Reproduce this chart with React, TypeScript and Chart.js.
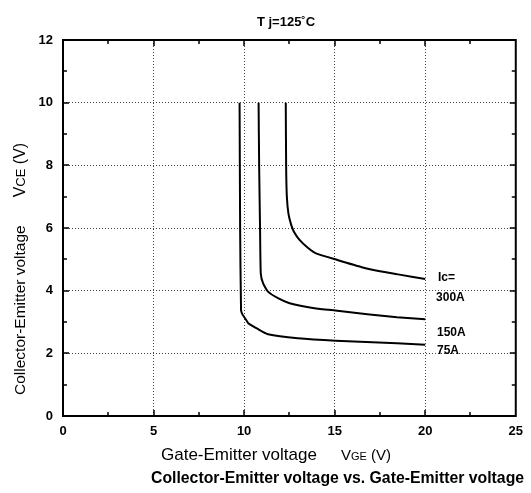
import React, { useEffect, useRef } from "react";
import { Chart, registerables } from "chart.js";

Chart.register(...registerables);

// ---- data ----
const X_75A = [9.75, 9.78, 9.83, 9.9, 10.05, 10.23, 10.78, 11.32, 12.96, 15.06, 18.44, 20];
const Y_75A = [10, 6, 3.38, 3.25, 3.12, 2.96, 2.77, 2.61, 2.48, 2.4, 2.32, 2.27];

const X_150A = [10.8, 10.83, 10.88, 10.92, 11.05, 11.32, 11.87, 12.51, 13.88, 15.15, 16.8, 18.44, 20];
const Y_150A = [10, 8, 6, 4.55, 4.23, 3.97, 3.76, 3.6, 3.44, 3.36, 3.25, 3.15, 3.09];

const X_300A = [12.3, 12.32, 12.36, 12.45, 12.6, 12.75, 13.06, 13.5, 13.97, 15.15, 16.5, 17.5, 18.5, 20];
const Y_300A = [10, 8, 7, 6.45, 6.1, 5.88, 5.62, 5.38, 5.19, 4.98, 4.75, 4.62, 4.52, 4.37];

const CURVE_LABELS = ["Ic=", "300A", "150A", "75A"];
const CURVE_LABEL_X = [20.7, 20.6, 20.65, 20.65];
const CURVE_LABEL_Y = [4.4, 3.78, 2.65, 2.1];

const X_MIN = 0, X_MAX = 25, X_STEP = 2.5, X_LABEL_STEP = 5;
const Y_MIN = 0, Y_MAX = 12, Y_STEP = 1, Y_LABEL_STEP = 2;

const TITLE = "T j=125˚C";
const CAPTION = "Collector-Emitter voltage vs. Gate-Emitter voltage";
const X_TITLE = ["Gate-Emitter voltage", "V", "GE", " (V)"];
const Y_TITLE = ["Collector-Emitter voltage", "V", "CE", " (V)"];

const FONT = "Arial, 'Liberation Sans', Helvetica, sans-serif";

const toPts = (xs: number[], ys: number[]) => xs.map((x, i) => ({ x, y: ys[i] }));

const decorPlugin = {
  id: "decor",
  afterDraw(chart: any) {
    const { ctx, chartArea, scales } = chart;
    const { left, right, top, bottom } = chartArea;
    const xs = scales.x, ys = scales.y;
    ctx.save();
    ctx.strokeStyle = "#000";
    // inward ticks
    ctx.lineWidth = 1.5;
    for (let v = X_MIN + X_STEP; v < X_MAX - 1e-6; v += X_STEP) {
      const px = Math.round(xs.getPixelForValue(v));
      const len = Math.abs(v % X_LABEL_STEP) < 1e-6 ? 6 : 4;
      ctx.beginPath();
      ctx.moveTo(px, bottom); ctx.lineTo(px, bottom - len);
      ctx.moveTo(px, top); ctx.lineTo(px, top + len);
      ctx.stroke();
    }
    for (let v = Y_MIN + Y_STEP; v < Y_MAX - 1e-6; v += Y_STEP) {
      const py = Math.round(ys.getPixelForValue(v));
      const len = Math.abs(v % Y_LABEL_STEP) < 1e-6 ? 6 : 4;
      ctx.beginPath();
      ctx.moveTo(left, py); ctx.lineTo(left + len, py);
      ctx.moveTo(right, py); ctx.lineTo(right - len, py);
      ctx.stroke();
    }
    // frame
    ctx.lineWidth = 2;
    ctx.strokeRect(left, top, right - left, bottom - top);

    // curve labels
    ctx.fillStyle = "#000";
    ctx.font = `bold 12px ${FONT}`;
    ctx.textAlign = "left";
    ctx.textBaseline = "middle";
    CURVE_LABELS.forEach((t, i) => {
      ctx.fillText(t, xs.getPixelForValue(CURVE_LABEL_X[i]), ys.getPixelForValue(CURVE_LABEL_Y[i]));
    });

    // title
    ctx.textAlign = "center";
    ctx.textBaseline = "alphabetic";
    ctx.font = `bold 13px ${FONT}`;
    ctx.fillText(TITLE, 286, 26);

    // caption
    ctx.font = `bold 15.8px ${FONT}`;
    ctx.textAlign = "left";
    ctx.fillText(CAPTION, 151, 483);

    // mixed-size axis title
    const drawMixed = (parts: string[], sizes: number[], gap: number, x0: number, y0: number) => {
      let x = x0;
      parts.forEach((p, i) => {
        ctx.font = `${sizes[i]}px ${FONT}`;
        if (i === 1) x += gap;
        ctx.fillText(p, x, y0);
        x += ctx.measureText(p).width;
      });
    };
    ctx.textAlign = "left";
    drawMixed(X_TITLE, [17, 15, 11, 15], 24, 161, 460);
    ctx.translate(25, 395);
    ctx.rotate(-Math.PI / 2);
    drawMixed(Y_TITLE, [15.5, 16, 13, 16], 28, 0, 0);
    ctx.restore();
  },
};

export default function App() {
  const ref = useRef<HTMLCanvasElement | null>(null);
  useEffect(() => {
    if (!ref.current) return;
    const chart = new Chart(ref.current, {
      type: "scatter",
      data: {
        datasets: [
          { label: "75A", data: toPts(X_75A, Y_75A) },
          { label: "150A", data: toPts(X_150A, Y_150A) },
          { label: "300A", data: toPts(X_300A, Y_300A) },
        ].map((d) => ({
          ...d,
          showLine: true,
          borderColor: "#000",
          backgroundColor: "#000",
          borderWidth: 2,
          pointRadius: 0,
          tension: 0.15,
        })),
      },
      options: {
        animation: false,
        responsive: true,
        maintainAspectRatio: false,
        layout: { padding: { left: 0, top: 40, right: 11, bottom: 47 } },
        plugins: { legend: { display: false }, tooltip: { enabled: false }, title: { display: false } },
        scales: {
          x: {
            type: "linear",
            min: X_MIN,
            max: X_MAX,
            afterFit: (s: any) => { s.height = 30; },
            ticks: {
              stepSize: X_STEP,
              autoSkip: false,
              maxRotation: 0,
              padding: 8,
              color: "#000",
              font: { family: FONT, size: 13, weight: "bold" },
              callback: (v: any) => (Math.abs(Number(v) % X_LABEL_STEP) < 1e-6 ? String(v) : ""),
            },
            grid: {
              drawTicks: false,
              lineWidth: 1,
              color: (c: any) => {
                const v = c.tick ? c.tick.value : NaN;
                return Math.abs(v % X_LABEL_STEP) < 1e-6 && v > X_MIN && v < X_MAX ? "#444" : "transparent";
              },
            },
            border: { display: false, dash: [1, 2] },
          },
          y: {
            type: "linear",
            min: Y_MIN,
            max: Y_MAX,
            afterFit: (s: any) => { s.width = 63; },
            ticks: {
              stepSize: Y_STEP,
              autoSkip: false,
              padding: 10,
              color: "#000",
              font: { family: FONT, size: 13, weight: "bold" },
              callback: (v: any) => (Math.abs(Number(v) % Y_LABEL_STEP) < 1e-6 ? String(v) : ""),
            },
            grid: {
              drawTicks: false,
              lineWidth: 1,
              color: (c: any) => {
                const v = c.tick ? c.tick.value : NaN;
                return Math.abs(v % Y_LABEL_STEP) < 1e-6 && v > Y_MIN && v < Y_MAX ? "#444" : "transparent";
              },
            },
            border: { display: false, dash: [1, 2] },
          },
        },
      } as any,
      plugins: [decorPlugin],
    });
    return () => chart.destroy();
  }, []);
  return (
    <div style={{ position: "fixed", left: 0, top: 0, width: 531, height: 493, background: "#fff" }}>
      <canvas ref={ref} />
    </div>
  );
}
